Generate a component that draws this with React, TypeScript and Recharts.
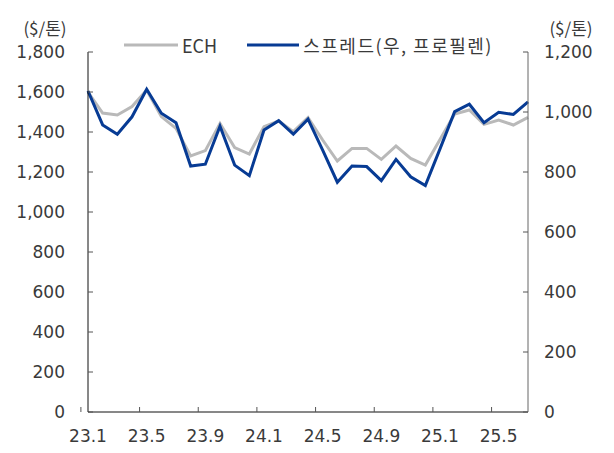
import React from 'react';
import { ComposedChart, Line, XAxis, YAxis } from 'recharts';

const months = [
  '23.1', '23.2', '23.3', '23.4', '23.5', '23.6', '23.7', '23.8', '23.9', '23.10', '23.11', '23.12',
  '24.1', '24.2', '24.3', '24.4', '24.5', '24.6', '24.7', '24.8', '24.9', '24.10', '24.11', '24.12',
  '25.1', '25.2', '25.3', '25.4', '25.5', '25.6', '25.7',
];

// ECH price, left axis ($/톤)
const ech = [
  1600, 1495, 1485, 1527, 1610, 1477, 1418, 1280, 1307, 1443, 1322, 1290,
  1427, 1455, 1402, 1472, 1360, 1255, 1318, 1318, 1263, 1330, 1268, 1235,
  1362, 1490, 1510, 1438, 1460, 1435, 1473,
];

// spread vs propylene, right axis ($/톤)
const spread = [
  1070, 957, 926, 984, 1076, 996, 964, 820, 826, 953, 823, 788,
  940, 971, 926, 976, 873, 766, 820, 818, 771, 842, 784, 755,
  877, 1001, 1026, 964, 999, 992, 1034,
];

const leftTicks = [0, 200, 400, 600, 800, 1000, 1200, 1400, 1600, 1800];
const rightTicks = [0, 200, 400, 600, 800, 1000, 1200];

const chartData = months.map((m, i) => ({ month: m, ech: ech[i], spread: spread[i] }));

const W = 614;
const H = 453;
const margin = { top: 52, right: 6, bottom: 11, left: 8 };
const axisW = 80;
const plotW = W - margin.left - margin.right - axisW * 2;
const band = plotW / months.length;

const FONT = '"DejaVu Sans", sans-serif';
const KFONT = '"Noto Sans CJK KR", "DejaVu Sans", sans-serif';
const TEXT = '#3a3a3a';

const fmt = (v: number) => v.toLocaleString('en-US');

// tick mark sits on the band boundary, label at the band centre
const MonthTick = (props: any) => {
  const { x, y, payload } = props;
  return (
    <g>
      <line x1={x - band / 2} x2={x - band / 2} y1={y} y2={y - 5} stroke="#555" />
      <text x={x} y={y + 30} textAnchor="middle" fontSize={17} fontFamily={FONT} fill={TEXT}>
        {payload.value}
      </text>
    </g>
  );
};

export default function App() {
  return (
    <div style={{ position: 'absolute', left: 0, top: 0, width: W, height: H, background: '#fff' }}>
      <ComposedChart width={W} height={H} data={chartData} margin={margin}>
        <XAxis
          dataKey="month"
          interval={3}
          tickLine={false}
          tickSize={0}
          tickMargin={0}
          height={30}
          axisLine={{ stroke: '#111' }}
          tick={<MonthTick />}
        />
        <YAxis
          yAxisId="left"
          width={axisW}
          domain={[0, 1800]}
          ticks={leftTicks}
          tickFormatter={fmt}
          tickSize={-5}
          tickMargin={28}
          axisLine={{ stroke: '#111' }}
          tickLine={{ stroke: '#555' }}
          tick={{ fontSize: 17, fontFamily: FONT, fill: TEXT }}
        />
        <YAxis
          yAxisId="right"
          orientation="right"
          width={axisW}
          domain={[0, 1200]}
          ticks={rightTicks}
          tickFormatter={fmt}
          tickSize={-5}
          tickMargin={21}
          axisLine={{ stroke: '#666' }}
          tickLine={{ stroke: '#555' }}
          tick={{ fontSize: 17, fontFamily: FONT, fill: TEXT, textAnchor: 'start' }}
        />
        <Line
          yAxisId="left"
          dataKey="ech"
          stroke="#b9b9b9"
          strokeWidth={3}
          dot={false}
          isAnimationActive={false}
        />
        <Line
          yAxisId="right"
          dataKey="spread"
          stroke="#073b94"
          strokeWidth={3}
          dot={false}
          isAnimationActive={false}
        />
      </ComposedChart>

      <div style={{ position: 'absolute', left: 17, top: 15, width: 56, textAlign: 'center', fontFamily: KFONT, fontSize: 17, color: TEXT }}>
        ($/톤)
      </div>
      <div style={{ position: 'absolute', left: 543, top: 15, width: 56, textAlign: 'center', fontFamily: KFONT, fontSize: 17, color: TEXT }}>
        ($/톤)
      </div>

      <div style={{ position: 'absolute', left: 124, top: 32, display: 'flex', alignItems: 'center', fontFamily: KFONT, fontSize: 18, color: TEXT, whiteSpace: 'nowrap' }}>
        <svg width={54} height={6} style={{ marginRight: 4 }}>
          <line x1={0} x2={54} y1={3} y2={3} stroke="#b9b9b9" strokeWidth={3} />
        </svg>
        <span style={{ marginRight: 30 }}>ECH</span>
        <svg width={52} height={6} style={{ marginRight: 4 }}>
          <line x1={0} x2={52} y1={3} y2={3} stroke="#073b94" strokeWidth={3} />
        </svg>
        <span style={{ letterSpacing: 1.5 }}>스프레드(우, 프로필렌)</span>
      </div>
    </div>
  );
}
